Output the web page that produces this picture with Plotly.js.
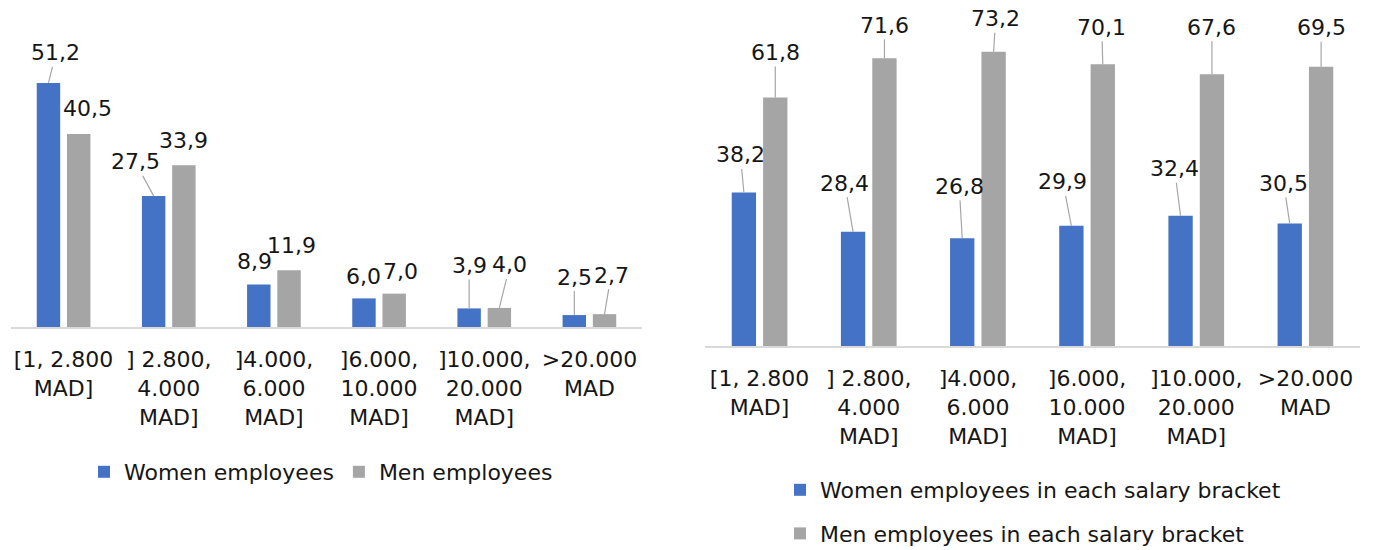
<!DOCTYPE html>
<html>
<head>
<meta charset="utf-8">
<script src="https://cdn.plot.ly/plotly-3.0.1.min.js"></script>
<style>html,body{margin:0;padding:0;background:#fff;}#chart{width:1375px;height:550px;}</style>
</head>
<body>
<div id="chart"></div>
<script>
// ---------- data ----------
var categories = ["[1, 2.800 MAD]", "] 2.800, 4.000 MAD]", "]4.000, 6.000 MAD]", "]6.000, 10.000 MAD]", "]10.000, 20.000 MAD]", ">20.000 MAD"];
var tickLabels = ["[1, 2.800<br>MAD]", "] 2.800,<br>4.000<br>MAD]", "]4.000,<br>6.000<br>MAD]", "]6.000,<br>10.000<br>MAD]", "]10.000,<br>20.000<br>MAD]", ">20.000<br>MAD"];

// left chart: share of each gender's employees in each bracket
var womenShare = [51.2, 27.5, 8.9, 6.0, 3.9, 2.5];
var menShare   = [40.5, 33.9, 11.9, 7.0, 4.0, 2.7];

// right chart: gender split inside each bracket
var womenInBracket = [38.2, 28.4, 26.8, 29.9, 32.4, 30.5];
var menInBracket   = [61.8, 71.6, 73.2, 70.1, 67.6, 69.5];

var seriesNamesLeft  = ["Women employees", "Men employees"];
var seriesNamesRight = ["Women employees in each salary bracket", "Men employees in each salary bracket"];

// ---------- styles ----------
var BLUE = "#4472C4", GRAY = "#A5A5A5";
var FONT = "'DejaVu Sans', sans-serif";
var TXT = "#161616";
var FS = 22;
var BARGAP = 0.425, BARGROUPGAP = 0.225;

// label placement (pixel offsets of label centre from bar top, and whether a leader line is drawn)
var offWL = [[7.5,-30,1],[-18.5,-34,1],[-4,-23,0],[0,-22,0],[0,-43,1],[0,-38,1]];
var offML = [[9,-25.5,0],[0,-25,0],[2,-25,0],[6,-22,0],[10.5,-43,1],[6.5,-39,1]];
var offWR = [[-3.5,-37.5,1],[-8.3,-48.7,1],[-3,-52,1],[-8.5,-44,1],[-6,-47,1],[-6,-40,1]];
var offMR = [[0,-45,1],[0,-33,1],[2,-33,1],[-1,-37,1],[0,-47,1],[0,-39,1]];

function fmt(v){ return v.toFixed(1).replace('.', ','); }

var traces = [
  {type:'bar', x:categories, y:womenShare, name:seriesNamesLeft[0], marker:{color:BLUE}, xaxis:'x', yaxis:'y', legend:'legend', hoverinfo:'none'},
  {type:'bar', x:categories, y:menShare, name:seriesNamesLeft[1], marker:{color:GRAY}, xaxis:'x', yaxis:'y', legend:'legend', hoverinfo:'none'},
  {type:'bar', x:categories, y:womenInBracket, name:seriesNamesRight[0], marker:{color:BLUE}, xaxis:'x2', yaxis:'y2', legend:'legend2', legendgroup:'w2', hoverinfo:'none'},
  {type:'bar', x:categories, y:menInBracket, name:seriesNamesRight[1], marker:{color:GRAY}, xaxis:'x2', yaxis:'y2', legend:'legend2', legendgroup:'m2', hoverinfo:'none'}
];

var half = (1 - BARGAP) / 4; // centre offset of each bar from category centre (category units)
var annotations = [];
function addLabels(values, offs, side, xr, yr){
  values.forEach(function(v, i){
    var o = offs[i];
    var a = {xref:xr, yref:yr, x:i + side*half, y:v, text:fmt(v),
             font:{family:FONT, size:FS, color:TXT}};
    if(o[2]){
      a.showarrow = true; a.arrowhead = 0; a.arrowwidth = 1.2; a.arrowcolor = '#A6A6A6';
      a.axref = 'pixel'; a.ayref = 'pixel'; a.ax = o[0]; a.ay = o[1]; a.standoff = 0;
    } else {
      a.showarrow = false; a.xanchor = 'center'; a.yanchor = 'middle';
      a.xshift = o[0]; a.yshift = -o[1];
    }
    annotations.push(a);
  });
}
addLabels(womenShare, offWL, -1, 'x', 'y');
addLabels(menShare, offML, 1, 'x', 'y');
addLabels(womenInBracket, offWR, -1, 'x2', 'y2');
addLabels(menInBracket, offMR, 1, 'x2', 'y2');

var xbase = {type:'category', categoryorder:'array', categoryarray:categories, range:[-0.5, 5.5],
  tickmode:'array', tickvals:categories, ticktext:tickLabels, ticks:'', showgrid:false, zeroline:false,
  showline:true, linecolor:'#D9D9D9', linewidth:2, ticklabelstandoff:12,
  tickfont:{family:FONT, size:FS, color:TXT}, fixedrange:true};

var layout = {
  width:1375, height:550, autosize:false,
  margin:{l:0, r:0, t:0, b:0, pad:0, autoexpand:false},
  paper_bgcolor:'#fff', plot_bgcolor:'#fff',
  barmode:'group', bargap:BARGAP, bargroupgap:BARGROUPGAP,
  font:{family:FONT, size:FS, color:TXT},
  xaxis:Object.assign({}, xbase, {domain:[11/1375, 642/1375], anchor:'y'}),
  yaxis:{domain:[223/550, 490/550], range:[0, 56], visible:false, fixedrange:true},
  xaxis2:Object.assign({}, xbase, {domain:[705/1375, 1360/1375], anchor:'y2'}),
  yaxis2:{domain:[204/550, 530/550], range:[0, 81.1], visible:false, fixedrange:true},
  legend:{orientation:'h', x:84/1375, xanchor:'left', y:(550-472)/550, yanchor:'middle',
          font:{family:FONT, size:FS, color:TXT}, bgcolor:'rgba(0,0,0,0)', traceorder:'normal'},
  legend2:{orientation:'v', x:780/1375, xanchor:'left', y:(550-512)/550, yanchor:'middle',
          font:{family:FONT, size:FS, color:TXT}, bgcolor:'rgba(0,0,0,0)', tracegroupgap:12, traceorder:'grouped'},
  showlegend:true,
  annotations:annotations
};

Plotly.newPlot('chart', traces, layout, {displayModeBar:false, staticPlot:true});
</script>
</body>
</html>
